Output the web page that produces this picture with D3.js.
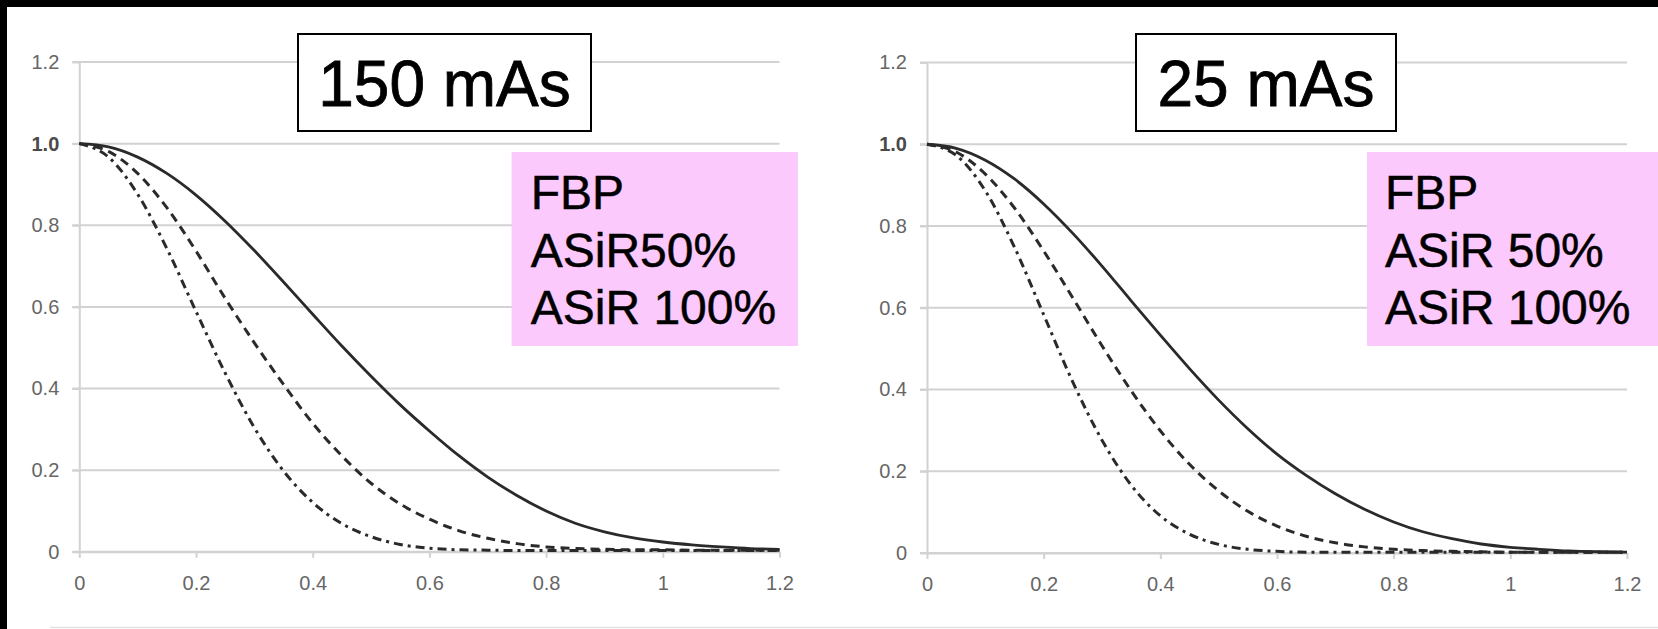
<!DOCTYPE html>
<html>
<head>
<meta charset="utf-8">
<script src="https://cdn.jsdelivr.net/npm/d3@7"></script>
<style>
  html, body { margin: 0; padding: 0; background: #000; }
  svg { display: block; }
  text { font-family: "Liberation Sans", Arial, sans-serif; }
</style>
</head>
<body>
<svg id="chart" width="1658" height="629"></svg>
<script>
// ---------- data ----------
const freq = [0, 0.05, 0.1, 0.15, 0.2, 0.25, 0.3, 0.35, 0.4, 0.45, 0.5, 0.55, 0.6,
              0.65, 0.7, 0.75, 0.8, 0.85, 0.9, 0.95, 1.0, 1.05, 1.1, 1.15, 1.2];

// 150 mAs
const fbp150      = [1.0, 0.992, 0.967, 0.927, 0.874, 0.810, 0.738, 0.661, 0.582, 0.504, 0.430, 0.360, 0.296,
                     0.236, 0.183, 0.138, 0.100, 0.070, 0.049, 0.034, 0.024, 0.017, 0.012, 0.008, 0.006];
const asir50_150  = [1.0, 0.981, 0.927, 0.843, 0.737, 0.621, 0.512, 0.410, 0.315, 0.235, 0.168, 0.117, 0.080,
                     0.052, 0.033, 0.020, 0.012, 0.008, 0.006, 0.005, 0.005, 0.004, 0.004, 0.004, 0.004];
const asir100_150 = [1.0, 0.967, 0.876, 0.743, 0.589, 0.438, 0.304, 0.198, 0.121, 0.069, 0.037, 0.018, 0.009,
                     0.005, 0.004, 0.003, 0.003, 0.003, 0.003, 0.003, 0.003, 0.003, 0.003, 0.003, 0.003];

// 25 mAs
const fbp25       = [1.0, 0.990, 0.961, 0.915, 0.854, 0.782, 0.702, 0.617, 0.533, 0.451, 0.374, 0.304, 0.242,
                     0.190, 0.145, 0.107, 0.076, 0.052, 0.035, 0.022, 0.014, 0.009, 0.005, 0.003, 0.002];
const asir50_25   = [1.0, 0.981, 0.927, 0.844, 0.739, 0.624, 0.507, 0.397, 0.299, 0.217, 0.152, 0.102, 0.066,
                     0.041, 0.025, 0.015, 0.009, 0.006, 0.004, 0.003, 0.002, 0.002, 0.002, 0.002, 0.002];
const asir100_25  = [1.0, 0.973, 0.886, 0.748, 0.583, 0.418, 0.276, 0.166, 0.091, 0.046, 0.021, 0.009, 0.004,
                     0.002, 0.002, 0.002, 0.002, 0.002, 0.002, 0.002, 0.002, 0.002, 0.002, 0.002, 0.002];

const xTickVals = [0, 0.2, 0.4, 0.6, 0.8, 1.0, 1.2];
const xTickLabels = ["0", "0.2", "0.4", "0.6", "0.8", "1", "1.2"];
const yTickVals = [0, 0.2, 0.4, 0.6, 0.8, 1.0, 1.2];
const yTickLabels = ["0", "0.2", "0.4", "0.6", "0.8", "1.0", "1.2"];

const titles = ["150 mAs", "25 mAs"];
const legend150 = ["FBP", "ASiR50%", "ASiR 100%"];
const legend25 = ["FBP", "ASiR 50%", "ASiR 100%"];

// ---------- drawing ----------
const svg = d3.select("#chart");
svg.append("rect").attr("x", 0).attr("y", 0).attr("width", 1658).attr("height", 629).attr("fill", "#000");
svg.append("rect").attr("x", 7).attr("y", 7).attr("width", 1651).attr("height", 622).attr("fill", "#fff");
svg.append("line").attr("x1", 50).attr("x2", 1658).attr("y1", 627.5).attr("y2", 627.5)
   .attr("stroke", "#e2e2e2").attr("stroke-width", 1.5);

const panels = [
  { x0: 79.3, x1: 779.5, y0: 551.8, y1: 62, series: [fbp150, asir50_150, asir100_150],
    title: titles[0], box: [298, 34, 293, 97], legend: legend150, lbox: [511.6, 152, 286.3, 194], ltx: 530.7 },
  { x0: 927, x1: 1627, y0: 553, y1: 62.5, series: [fbp25, asir50_25, asir100_25],
    title: titles[1], box: [1136, 34, 260, 97], legend: legend25, lbox: [1367, 152, 291, 194], ltx: 1385 }
];

const dashes = [null, "9,6", "9,5,3,5"];

panels.forEach(p => {
  const x = d3.scaleLinear().domain([0, 1.2]).range([p.x0, p.x1]);
  const y = d3.scaleLinear().domain([0, 1.2]).range([p.y0, p.y1]);
  const g = svg.append("g");

  // gridlines
  g.selectAll("line.grid").data(yTickVals).join("line")
    .attr("class", "grid")
    .attr("x1", x(0) - 7).attr("x2", x(1.2))
    .attr("y1", d => y(d)).attr("y2", d => y(d))
    .attr("stroke", "#d2d2d2").attr("stroke-width", 2);

  // y axis
  const ya = g.append("g").attr("transform", `translate(${x(0)},0)`)
    .call(d3.axisLeft(y).tickValues(yTickVals).tickSizeInner(7).tickSizeOuter(0).tickPadding(13)
      .tickFormat((d, i) => yTickLabels[i]));
  ya.select(".domain").attr("stroke", "#d2d2d2").attr("stroke-width", 2);
  ya.selectAll(".tick line").attr("stroke", "#d2d2d2").attr("stroke-width", 2);
  ya.selectAll(".tick text").attr("font-size", 20)
    .attr("font-family", "'Liberation Sans', Arial, sans-serif")
    .attr("font-weight", d => d === 1.0 ? "bold" : "normal")
    .attr("fill", d => d === 1.0 ? "#4a4a4a" : "#666");

  // x axis
  const xa = g.append("g").attr("transform", `translate(0,${y(0)})`)
    .call(d3.axisBottom(x).tickValues(xTickVals).tickSizeInner(6).tickSizeOuter(0).tickPadding(18)
      .tickFormat((d, i) => xTickLabels[i]));
  xa.select(".domain").attr("stroke", "#d2d2d2").attr("stroke-width", 2);
  xa.selectAll(".tick line").attr("stroke", "#d2d2d2").attr("stroke-width", 2);
  xa.selectAll(".tick text").attr("font-size", 20).attr("fill", "#666")
    .attr("font-family", "'Liberation Sans', Arial, sans-serif");

  // curves
  const line = d3.line().x((d, i) => x(freq[i])).y(d => y(d)).curve(d3.curveMonotoneX);
  p.series.forEach((s, k) => {
    g.append("path").datum(s)
      .attr("d", line)
      .attr("fill", "none")
      .attr("stroke", "#2a2a2a")
      .attr("stroke-width", k === 0 ? 2.8 : 3)
      .attr("stroke-dasharray", dashes[k]);
  });

  // title box
  g.append("rect").attr("x", p.box[0]).attr("y", p.box[1]).attr("width", p.box[2]).attr("height", p.box[3])
    .attr("fill", "#fff").attr("stroke", "#000").attr("stroke-width", 2);
  g.append("text").attr("x", p.box[0] + p.box[2] / 2).attr("y", 106)
    .attr("text-anchor", "middle").attr("font-size", 64).attr("fill", "#000")
    .attr("stroke", "#000").attr("stroke-width", 0.8)
    .text(p.title);

  // legend box
  g.append("rect").attr("x", p.lbox[0]).attr("y", p.lbox[1]).attr("width", p.lbox[2]).attr("height", p.lbox[3])
    .attr("fill", "#fbc9fb");
  g.selectAll("text.leg").data(p.legend).join("text")
    .attr("class", "leg")
    .attr("x", p.ltx).attr("y", (d, i) => 209 + i * 57.5)
    .attr("font-size", 48).attr("fill", "#000")
    .attr("stroke", "#000").attr("stroke-width", 0.5)
    .text(d => d);
});
</script>
</body>
</html>
